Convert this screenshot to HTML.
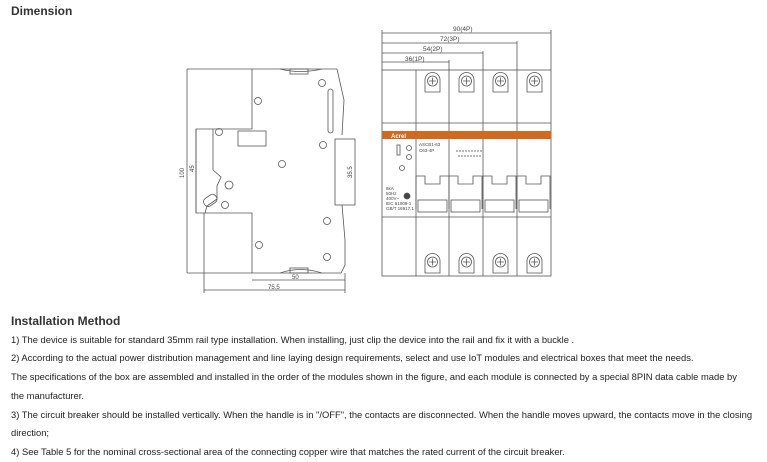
<!DOCTYPE html>
<html><head><meta charset="utf-8"><style>
body{margin:0;width:767px;height:462px;background:#fff;font-family:"Liberation Sans",Arial,sans-serif;color:#222;position:relative;overflow:hidden}
.h{position:absolute;left:11px;font-weight:bold;font-size:12px;color:#333}
.t{position:absolute;left:11px;font-size:9.4px;white-space:nowrap;color:#222}
svg{position:absolute;left:0;top:0}
</style></head><body>
<div class="h" style="top:4px">Dimension</div>
<svg width="767" height="310" viewBox="0 0 767 310" fill="none" stroke="#555" stroke-width="0.8" font-family="Liberation Sans, sans-serif">
<!-- left side view -->
<path d="M252 69 H337 L344 100 L342 135 M342 205 L345 240 V265 L341 273 H252 V213 H196 V129 H252 V69"/>
<line x1="187" y1="69" x2="252" y2="69"/><line x1="187" y1="273" x2="252" y2="273"/>
<line x1="187" y1="69" x2="187" y2="273"/>
<line x1="196" y1="129" x2="196" y2="213"/>
<text x="184" y="178" font-size="6" fill="#444" stroke="none" transform="rotate(-90 184 178)">100</text>
<text x="194" y="172" font-size="6" fill="#444" stroke="none" transform="rotate(-90 194 172)">45</text>
<rect x="335" y="139" width="20" height="66"/>
<text x="352" y="178" font-size="6" fill="#444" stroke="none" transform="rotate(-90 352 178)">35.5</text>
<rect x="238" y="131" width="28" height="15"/>
<rect x="328" y="89" width="5" height="44" rx="2.5"/>
<g>
<circle cx="258" cy="101" r="3.5"/><circle cx="322" cy="83" r="3.5"/><circle cx="219" cy="132" r="3.5"/><circle cx="323" cy="145" r="3.5"/><circle cx="282" cy="164" r="3.5"/><circle cx="225" cy="205" r="3.5"/><circle cx="327" cy="221" r="3.5"/><circle cx="259" cy="245" r="3.5"/><circle cx="327" cy="257" r="3.5"/><circle cx="229" cy="185" r="4"/>
</g>
<path d="M213 129 V170 L221 177 L217 186 V199 L207 206 L205 213"/>
<rect x="203" y="196" width="14" height="9" rx="4" transform="rotate(-35 210 200)"/>
<path d="M280 69 Q300 74 322 69 M280 273 Q300 266 322 273"/>
<rect x="290" y="69" width="18" height="5"/><rect x="290" y="268" width="18" height="5"/>
<line x1="252" y1="280" x2="345" y2="280"/><line x1="345" y1="273" x2="345" y2="293"/>
<line x1="204" y1="213" x2="204" y2="293"/>
<line x1="204" y1="290" x2="345" y2="290"/>
<text x="292" y="279" font-size="6" fill="#444" stroke="none">50</text>
<text x="268" y="289" font-size="6" fill="#444" stroke="none">75.5</text>
<!-- front view -->
<rect x="382" y="70" width="169" height="206"/>
<line x1="416" y1="70" x2="416" y2="276"/><line x1="449" y1="70" x2="449" y2="276"/><line x1="483" y1="70" x2="483" y2="276"/><line x1="517" y1="70" x2="517" y2="276"/>
<line x1="382" y1="30" x2="382" y2="70"/>
<line x1="382" y1="33" x2="551" y2="33"/><line x1="551" y1="30" x2="551" y2="70"/>
<line x1="382" y1="43" x2="517" y2="43"/><line x1="517" y1="41" x2="517" y2="70"/>
<line x1="382" y1="53" x2="483" y2="53"/><line x1="483" y1="51" x2="483" y2="70"/>
<line x1="382" y1="62" x2="449" y2="62"/><line x1="449" y1="60" x2="449" y2="70"/>
<g font-size="6.5" fill="#444" stroke="none">
<text x="453" y="31">90(4P)</text><text x="440" y="41">72(3P)</text><text x="423" y="51">54(2P)</text><text x="405" y="61">36(1P)</text></g>
<line x1="382" y1="123" x2="551" y2="123"/><line x1="382" y1="217" x2="551" y2="217"/>
<rect x="382" y="131" width="169" height="8" fill="#d2691e" stroke="none"/>
<text x="391" y="138" font-size="6" font-weight="bold" fill="#fff" stroke="none">Acrel</text>
<g id="s">
<path d="M425 92 V80 a7.5 7.5 0 0 1 15 0 V92 Z"/><circle cx="432.5" cy="81" r="5"/><path d="M429 81 H436 M432.5 77.5 V84.5"/>
</g>
<use href="#s" x="34"/><use href="#s" x="68"/><use href="#s" x="102"/>
<use href="#s" x="0" y="181"/><use href="#s" x="34" y="181"/><use href="#s" x="68" y="181"/><use href="#s" x="102" y="181"/>
<g id="hd"><path d="M416 209 V176 H425 V184 H440 V176 H449 V209"/><rect x="418" y="200" width="29" height="12"/></g>
<use href="#hd" x="33"/><use href="#hd" x="67"/><use href="#hd" x="101"/>
<g font-size="4.5" fill="#444" stroke="none"><text x="419" y="146">ASCB1-63</text><text x="419" y="152">C63-4P</text><text x="386" y="190">6kA</text><text x="386" y="195">50Hz</text><text x="386" y="200">400V~</text><text x="386" y="205">IEC 61009-1</text><text x="386" y="210">GB/T 16917.1</text></g>
<rect x="397" y="145" width="3" height="10"/><circle cx="409" cy="148" r="2.5"/><circle cx="409" cy="157" r="2.5"/><circle cx="402" cy="168" r="2.5"/><circle cx="407" cy="196" r="3" fill="#444"/>
<path d="M456 151 H482 M458 156 H482" stroke="#444" stroke-dasharray="2 1"/>
</svg>
<div class="h" style="top:314px">Installation Method</div>
<div class="t" style="top:334px">1) The device is suitable for standard 35mm rail type installation. When installing, just clip the device into the rail and fix it with a buckle .</div>
<div class="t" style="top:352px">2) According to the actual power distribution management and line laying design requirements, select and use IoT modules and electrical boxes that meet the needs.</div>
<div class="t" style="top:371px">The specifications of the box are assembled and installed in the order of the modules shown in the figure, and each module is connected by a special 8PIN data cable made by</div>
<div class="t" style="top:390px">the manufacturer.</div>
<div class="t" style="top:409px">3) The circuit breaker should be installed vertically. When the handle is in "/OFF", the contacts are disconnected. When the handle moves upward, the contacts move in the closing</div>
<div class="t" style="top:427px">direction;</div>
<div class="t" style="top:446px">4) See Table 5 for the nominal cross-sectional area of the connecting copper wire that matches the rated current of the circuit breaker.</div>
</body></html>
